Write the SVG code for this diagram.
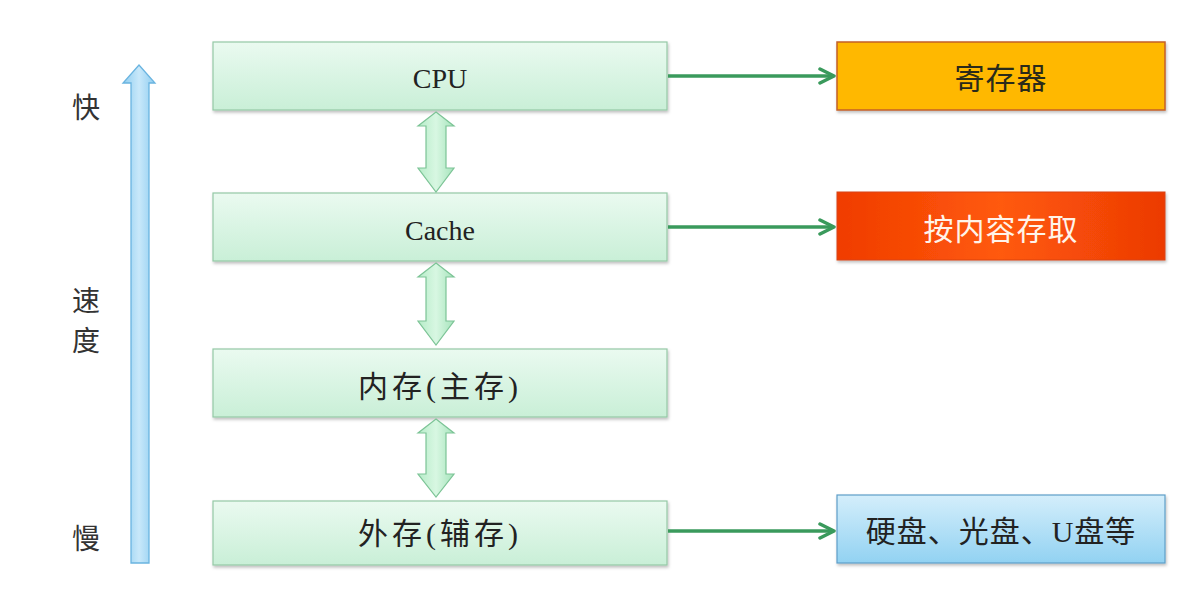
<svg xmlns="http://www.w3.org/2000/svg" width="1194" height="602" viewBox="0 0 1194 602">
<defs>
<linearGradient id="gGreen" x1="0" y1="0" x2="0" y2="1"><stop offset="0" stop-color="#eafaf0"/><stop offset="1" stop-color="#c9efd7"/></linearGradient>
<linearGradient id="gRed" x1="0" y1="0" x2="1" y2="0"><stop offset="0" stop-color="#f03c02"/><stop offset="0.5" stop-color="#ff5a0a"/><stop offset="1" stop-color="#ec3a04"/></linearGradient>
<linearGradient id="gBlue" x1="0" y1="0" x2="0" y2="1"><stop offset="0" stop-color="#d4eefb"/><stop offset="1" stop-color="#92d2f2"/></linearGradient>
<linearGradient id="gDbl" x1="0" y1="0" x2="1" y2="0"><stop offset="0" stop-color="#b6ecc8"/><stop offset="0.5" stop-color="#d8f7e2"/><stop offset="1" stop-color="#a6e4bc"/></linearGradient>
<linearGradient id="gUp" x1="0" y1="0" x2="1" y2="0"><stop offset="0" stop-color="#8fcdf0"/><stop offset="0.5" stop-color="#c8e8fa"/><stop offset="1" stop-color="#8fcdf0"/></linearGradient>
<filter id="sh" x="-5%" y="-10%" width="110%" height="130%"><feDropShadow dx="1" dy="2" stdDeviation="1.5" flood-color="#000" flood-opacity="0.25"/></filter>
<marker id="ah" viewBox="0 0 10 10" refX="9" refY="5" markerWidth="5" markerHeight="5" orient="auto" markerUnits="strokeWidth"><path d="M1,1 L9,5 L1,9" fill="none" stroke="#3a9a5c" stroke-width="2" stroke-linecap="round" stroke-linejoin="round"/></marker>
</defs>
<style>
.gb{fill:url(#gGreen);stroke:#94c8a6;stroke-width:1.2}
.t{font-family:"Liberation Serif","Noto Sans CJK SC",serif;font-size:28px;fill:#222;text-anchor:middle;dominant-baseline:central}
.zh{font-size:30px;letter-spacing:1px}
.side{font-family:"Noto Sans CJK SC",serif;font-size:28px;fill:#333;text-anchor:middle;dominant-baseline:central}
.con{stroke:#3a9a5c;stroke-width:3.5;fill:none;marker-end:url(#ah)}
.dbl{fill:url(#gDbl);stroke:#7cc496;stroke-width:1.2}
</style>
<rect width="1194" height="602" fill="#ffffff"/>
<g id="speed-axis">
<path d="M131,563 L131,83 L123,83 L139,65 L155,83 L149,83 L149,563 Z" fill="url(#gUp)" stroke="#6ab4e0" stroke-width="1.3"/>
<text class="side" x="86" y="106">快</text>
<text class="side" x="86" y="299">速</text>
<text class="side" x="86" y="339">度</text>
<text class="side" x="86" y="537">慢</text>
</g>
<g id="cpu"><rect class="gb" x="213" y="42" width="454" height="68" filter="url(#sh)"/><text class="t" x="440" y="78">CPU</text></g>
<g id="cache"><rect class="gb" x="213" y="193" width="454" height="68" filter="url(#sh)"/><text class="t" x="440" y="230">Cache</text></g>
<g id="mem"><rect class="gb" x="213" y="349" width="454" height="68" filter="url(#sh)"/><text class="t zh" x="440" y="386" style="letter-spacing:4px">内存(主存)</text></g>
<g id="ext"><rect class="gb" x="213" y="501" width="454" height="64" filter="url(#sh)"/><text class="t zh" x="440" y="533" style="letter-spacing:4px">外存(辅存)</text></g>
<g id="reg"><rect x="837" y="42" width="328" height="68" fill="#ffb800" stroke="#c4602a" stroke-width="1.5" filter="url(#sh)"/><text class="t zh" x="1001" y="78" style="fill:#2a2a1a">寄存器</text></g>
<g id="cam"><rect x="837" y="192" width="328" height="68" fill="url(#gRed)" stroke="#d84410" stroke-width="1" filter="url(#sh)"/><text class="t zh" x="1001" y="229" style="fill:#fff4ea">按内容存取</text></g>
<g id="disk"><rect x="837" y="495" width="328" height="68" fill="url(#gBlue)" stroke="#5e9ec8" stroke-width="1.2" filter="url(#sh)"/><text class="t zh" x="1001" y="531">硬盘、光盘、U盘等</text></g>
<g id="connectors">
<line class="con" x1="668" y1="76" x2="834" y2="76"/>
<line class="con" x1="668" y1="227" x2="834" y2="227"/>
<line class="con" x1="668" y1="531" x2="834" y2="531"/>
<path class="dbl" d="M436,112 L454,126 L446,126 L446,168 L454,168 L436,192 L418,168 L426,168 L426,126 L418,126 Z"/>
<path class="dbl" d="M436,263 L454,277 L446,277 L446,321 L454,321 L436,345 L418,321 L426,321 L426,277 L418,277 Z"/>
<path class="dbl" d="M436,419 L454,433 L446,433 L446,474 L454,474 L436,497 L418,474 L426,474 L426,433 L418,433 Z"/>
</g>
</svg>
